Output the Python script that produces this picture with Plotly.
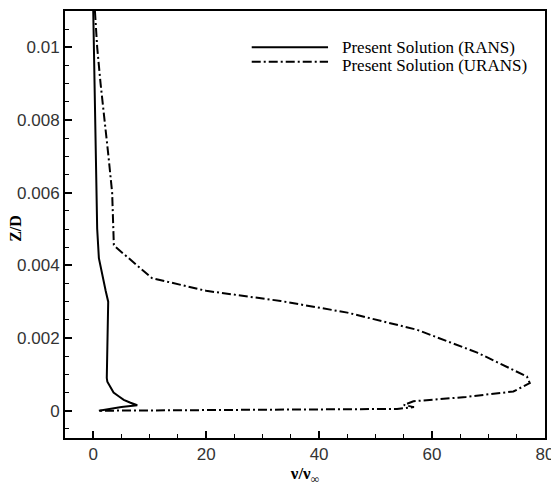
import plotly.graph_objects as go

# RANS (solid) profile: nu/nu_inf vs Z/D
rans_x = [0.0, 0.1, 0.2, 0.3, 0.5, 0.6, 0.7, 1.0, 1.6, 2.2, 2.65, 2.6, 2.5, 2.4, 2.35, 2.4, 2.5, 3.0, 3.6, 4.5, 5.4, 6.6, 7.8, 5.0, 2.5, 1.0]
rans_y = [0.011, 0.010, 0.009, 0.008, 0.007, 0.006, 0.005, 0.0042, 0.0037, 0.0033, 0.0030, 0.0027, 0.0022, 0.0017, 0.0012, 0.0009, 0.0008, 0.00065, 0.0005, 0.0004, 0.0003, 0.00022, 0.00015, 0.0001, 0.00004, 0.0]

# URANS (dash-dot) profile
urans_x = [0.3, 0.7, 1.3, 2.05, 2.7, 3.35, 3.6, 3.65, 4.0, 10.4, 20.0, 33.2, 45.0, 57.3, 68.0, 76.8, 77.3, 74.4, 66.0, 56.7, 55.0, 56.8, 53.8, 45.0, 33.2, 20.0, 10.0, 0.7]
urans_y = [0.011, 0.010, 0.009, 0.008, 0.007, 0.006, 0.005, 0.00456, 0.0045, 0.00365, 0.0033, 0.00302, 0.0027, 0.00223, 0.0016, 0.00094, 0.00076, 0.00053, 0.00038, 0.00026, 0.00016, 0.0001, 0.00005, 0.00004, 0.00003, 0.00001, 0.0, 0.0]

series_names = ["Present Solution (RANS)", "Present Solution (URANS)"]

x_ticks = [0, 20, 40, 60, 80]
y_ticks = [0, 0.002, 0.004, 0.006, 0.008, 0.01]
y_tick_text = ["0", "0.002", "0.004", "0.006", "0.008", "0.01"]

DASHDOT = "9px,3px,2px,3px"

fig = go.Figure()
fig.add_trace(go.Scatter(x=rans_x, y=rans_y, mode="lines", name=series_names[0],
                         line=dict(color="black", width=2, dash="solid"), showlegend=False))
fig.add_trace(go.Scatter(x=urans_x, y=urans_y, mode="lines", name=series_names[1],
                         line=dict(color="black", width=2, dash=DASHDOT), showlegend=False))

# legend drawn as paper-space decoration
line_y = [0.915, 0.881]
text_y = [0.9145, 0.8735]
dashes = ["solid", DASHDOT]
for i, name in enumerate(series_names):
    fig.add_shape(type="line", xref="paper", yref="paper", x0=0.389, x1=0.548, y0=line_y[i], y1=line_y[i],
                  line=dict(color="black", width=2, dash=dashes[i]))
    fig.add_annotation(xref="paper", yref="paper", x=0.574, y=text_y[i], text=name, showarrow=False,
                       xanchor="left", yanchor="middle", borderpad=0,
                       font=dict(family="Liberation Serif", size=17, color="black"))

# y-axis title as annotation (sits partly in tick-label column, as in the reference)
fig.add_annotation(xref="paper", yref="paper", x=-0.102, y=0.49, text="<b>Z/D</b>", showarrow=False,
                   textangle=-90, xanchor="center", yanchor="middle",
                   font=dict(family="Liberation Serif", size=16, color="black"))

axis_common = dict(showgrid=False, zeroline=False, showline=True, linecolor="black", linewidth=2,
                   mirror=True, ticks="inside", ticklen=7, tickwidth=2, tickcolor="black",
                   automargin=False,
                   tickfont=dict(family="Liberation Sans", size=17, color="#333"))

fig.update_xaxes(range=[-5, 80], tickvals=x_ticks, ticktext=[str(v) for v in x_ticks],
                 minor=dict(dtick=5, ticks="inside", ticklen=4, tickwidth=1, tickcolor="black"),
                 title=dict(text="<b>ν/ν<sub>∞</sub></b>", font=dict(family="Liberation Serif", size=17, color="black"), standoff=0),
                 **axis_common)
fig.update_yaxes(range=[-0.00075, 0.011], tickvals=y_ticks, ticktext=y_tick_text,
                 minor=dict(dtick=0.0005, ticks="inside", ticklen=4, tickwidth=1, tickcolor="black"),
                 **axis_common)

# page body has an 8px margin, so the figure is sized/offset to keep the plot frame where the reference has it
fig.update_layout(width=551, height=484, margin=dict(l=57, r=14, t=3, b=54),
                  plot_bgcolor="white", paper_bgcolor="white")

fig.write_html("out.html")
